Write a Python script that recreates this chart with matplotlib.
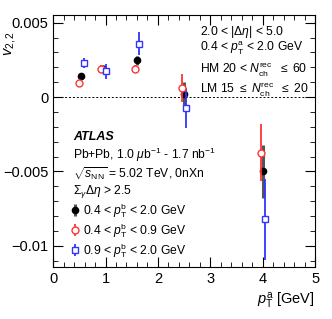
import matplotlib
matplotlib.use("Agg")
import matplotlib.pyplot as plt
from matplotlib.ticker import MultipleLocator

plt.rcParams["font.family"] = ["Liberation Sans", "DejaVu Sans"]
plt.rcParams["mathtext.fontset"] = "custom"
plt.rcParams["mathtext.rm"] = "Liberation Sans"
plt.rcParams["mathtext.it"] = "Liberation Sans:italic"
plt.rcParams["mathtext.bf"] = "Liberation Sans:bold"

# pT^b 0.4-2.0 GeV (black)
x_all = [0.53, 0.95, 1.60, 2.50, 4.00]
y_all = [0.00139, 0.00191, 0.00247, 0.00018, -0.00500]
e_all = [0.00020, 0.00022, 0.00028, 0.00080, 0.00180]

# pT^b 0.4-0.9 GeV (red)
x_low = [0.49, 0.91, 1.56, 2.46, 3.96]
y_low = [0.00097, 0.00189, 0.00188, 0.00061, -0.00374]
e_low = [0.00020, 0.00025, 0.00028, 0.00095, 0.00190]

# pT^b 0.9-2.0 GeV (blue)
x_high = [0.59, 1.01, 1.64, 2.54, 4.04]
y_high = [0.00229, 0.00173, 0.00359, -0.00074, -0.00821]
e_high = [0.00035, 0.00050, 0.00076, 0.00136, 0.00272]

fig = plt.figure(figsize=(3.32, 3.19), dpi=100)
ax = fig.add_axes([0.160, 0.163, 0.789, 0.790])

ax.axhline(0, color="black", ls=(0, (2, 2)), lw=0.7)

h1 = ax.errorbar(x_all, y_all, yerr=e_all, fmt="o", color="black", ms=4.5,
                 ecolor="#555555", elinewidth=2.2, capsize=0, zorder=3)
h2 = ax.errorbar(x_low, y_low, yerr=e_low, fmt="o", color="#ff3333", mfc="white",
                 ms=5, mew=1.0, elinewidth=1.3, capsize=0, zorder=4)
h3 = ax.errorbar(x_high, y_high, yerr=e_high, fmt="s", color="#3333ff", mfc="white",
                 ms=5, mew=1.0, elinewidth=1.3, capsize=0, zorder=4)

ax.set_xlim(0, 5)
ax.set_ylim(-0.01143, 0.00552)
ax.xaxis.set_major_locator(MultipleLocator(1))
ax.xaxis.set_minor_locator(MultipleLocator(0.2))
ax.yaxis.set_major_locator(MultipleLocator(0.005))
ax.yaxis.set_minor_locator(MultipleLocator(0.001))
ax.set_yticks([0.005, 0, -0.005, -0.01])
ax.set_yticklabels(["0.005", "0", "\u22120.005", "\u22120.01"])
ax.tick_params(which="both", direction="in", top=True, right=True, labelsize=10.5)
ax.tick_params(which="major", length=7)
ax.tick_params(which="minor", length=3.5)

ax.set_ylabel(r"$v_{2,2}$", fontsize=10.5, loc="top")
ax.yaxis.set_label_coords(-0.135, 0.937)
ax.set_xlabel(r"$p_{\mathrm{T}}^{\mathrm{a}}$ [GeV]", fontsize=10.5, loc="right")

fs = 8.7
tx = 0.56
ax.text(tx, 0.933, r"2.0 < |$\Delta\eta$| < 5.0", transform=ax.transAxes, fontsize=fs, va="center")
ax.text(tx, 0.866, r"0.4 < $p_{\mathrm{T}}^{\mathrm{a}}$ < 2.0 GeV", transform=ax.transAxes, fontsize=fs, va="center")
ax.text(tx, 0.786, r"HM 20 < $N_{\mathrm{ch}}^{\mathrm{rec}}$  $\leq$ 60", transform=ax.transAxes, fontsize=fs, va="center")
ax.text(tx, 0.708, r"LM 15 $\leq$ $N_{\mathrm{ch}}^{\mathrm{rec}}$  $\leq$ 20", transform=ax.transAxes, fontsize=fs, va="center")

lx = 0.076
ax.text(lx, 0.516, "ATLAS", transform=ax.transAxes, fontsize=9, fontweight="bold",
        fontstyle="italic", va="center")
ax.text(lx, 0.444, r"Pb+Pb, 1.0 $\mu$b$^{-1}$ - 1.7 nb$^{-1}$", transform=ax.transAxes, fontsize=fs, va="center")
ax.text(lx, 0.371, r"$\sqrt{s_{\mathrm{NN}}}$ = 5.02 TeV, 0nXn", transform=ax.transAxes, fontsize=fs, va="center")
ax.text(lx, 0.298, r"$\Sigma_{\gamma}\Delta\eta$ > 2.5", transform=ax.transAxes, fontsize=fs, va="center")

ax.legend([h1, h2, h3],
          [r"0.4 < $p_{\mathrm{T}}^{\mathrm{b}}$ < 2.0 GeV",
           r"0.4 < $p_{\mathrm{T}}^{\mathrm{b}}$ < 0.9 GeV",
           r"0.9 < $p_{\mathrm{T}}^{\mathrm{b}}$ < 2.0 GeV"],
          loc="upper left", bbox_to_anchor=(0.065, 0.262), frameon=False,
          fontsize=fs, handlelength=0.8, handletextpad=0.25, labelspacing=0.12,
          borderaxespad=0, borderpad=0)

fig.savefig("out.png", dpi=100)
